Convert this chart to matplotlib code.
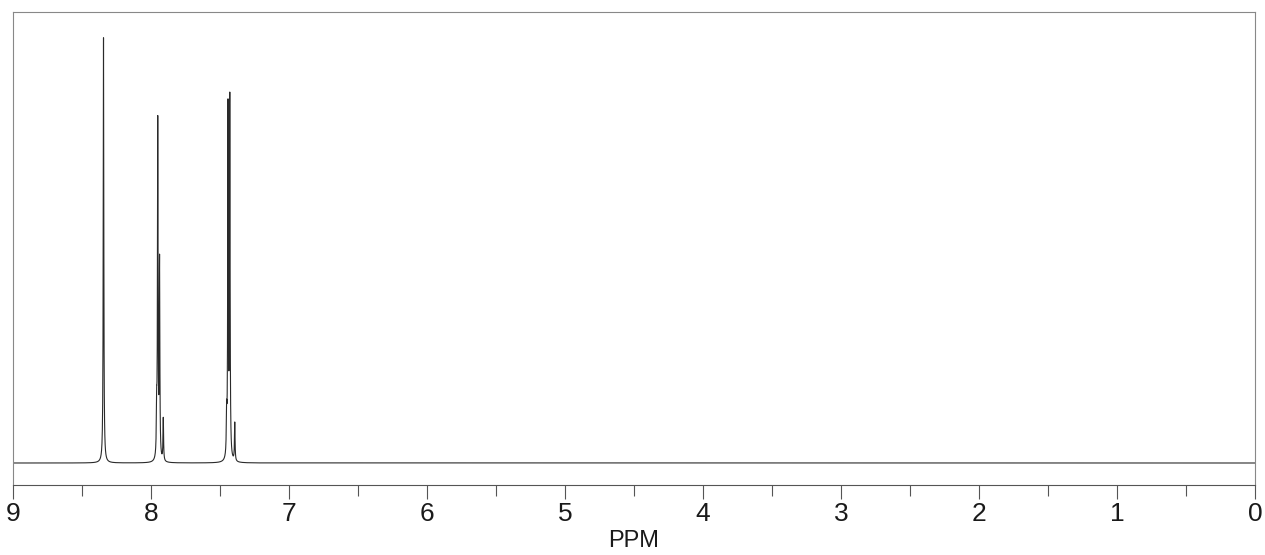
import numpy as np
import matplotlib.pyplot as plt
from matplotlib.ticker import MultipleLocator

# peak list: shift (ppm), relative height
shifts = [8.344, 7.959, 7.951, 7.938, 7.911, 7.452, 7.442, 7.429, 7.393]
heights = [100, 10, 79, 46, 10, 9, 82, 84, 9]
half_width = 0.0025  # ppm

tick_values = [9, 8, 7, 6, 5, 4, 3, 2, 1, 0]

ppm = np.linspace(0, 9, 40000)
intensity = np.zeros_like(ppm)
for s, h in zip(shifts, heights):
    intensity += h * half_width**2 / ((ppm - s)**2 + half_width**2)

plt.rcParams['font.family'] = ['Liberation Sans', 'DejaVu Sans']

fig = plt.figure(figsize=(12.65, 5.55), dpi=100)
ax = fig.add_axes([13 / 1265, (555 - 485) / 555, (1255 - 13) / 1265, (485 - 12) / 555])

ax.plot(ppm, intensity, color='#2a2a2a', lw=0.8)

ax.set_xlim(9, 0)
ax.set_ylim(-22 / 4.26, (485 - 12 - 22) / 4.26)

ax.xaxis.set_minor_locator(MultipleLocator(0.5))
ax.set_xticks(tick_values)
ax.set_xticklabels([str(t) for t in tick_values], fontsize=19, color='#1a1a1a')
ax.tick_params(axis='x', which='major', direction='out', length=10, width=0.8,
               color='#555555', pad=2)
ax.tick_params(axis='x', which='minor', direction='out', length=8, width=0.8,
               color='#555555')
ax.set_yticks([])

for sp in ax.spines.values():
    sp.set_color('#888888')
    sp.set_linewidth(0.8)
ax.spines['bottom'].set_color('#555555')

ax.set_xlabel('PPM', fontsize=17, color='#1a1a1a', labelpad=3)

plt.savefig('out.png', dpi=100)
